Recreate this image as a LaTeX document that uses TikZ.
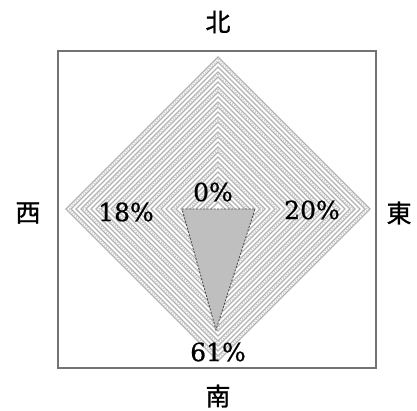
\documentclass[tikz,border=0pt]{standalone}
\usepackage{fontspec}
\usetikzlibrary{calc}
\setmainfont[FakeBold=0.8]{DejaVu Serif}
\newfontfamily\cjk[FakeBold=1]{Noto Sans CJK JP}
\begin{document}
\begin{tikzpicture}[x=1pt,y=-1pt,
  ring/.style={draw=black!30,line width=1.1pt},
  ringdot/.style={draw=black!45,line width=0.5pt,dash pattern=on 1pt off 1.5pt},
  frame/.style={draw=black!55,line width=1.2pt},
  datapoly/.style={fill=black!25,draw=black!70,line width=0.9pt,dash pattern=on 2pt off 1.5pt},
  pct/.style={font=\fontsize{25}{25}\selectfont,inner sep=0pt},
  dir/.style={font=\cjk\fontsize{25}{25}\selectfont,inner sep=0pt}]
\useasboundingbox[fill=white] (0,0) rectangle (417,411);
\draw[frame] (58,51) rectangle (376,368);
\coordinate (c) at (218,209);
\foreach \k in {0,...,29}{
  \pgfmathsetmacro\r{152-5*\k}
  \draw[ring] ($(c)+(0,-\r)$) -- ($(c)+(\r,0)$) -- ($(c)+(0,\r)$) -- ($(c)+(-\r,0)$) -- cycle;
}
\foreach \k in {0,...,9}{
  \pgfmathsetmacro\r{149.5-15*\k}
  \draw[ringdot] ($(c)+(0,-\r)$) -- ($(c)+(\r,0)$) -- ($(c)+(0,\r)$) -- ($(c)+(-\r,0)$) -- cycle;
}
\coordinate (pn) at (218,209);
\coordinate (pe) at (255,209);
\coordinate (ps) at (216,330);
\coordinate (pw) at (182,209);
\draw[datapoly] (pw) -- (pn) -- (pe) -- (ps) -- cycle;
\node[pct] (l0) at (213,192) {0\%};
\node[pct] (l18) at (126,212) {18\%};
\node[pct] (l20) at (312,210) {20\%};
\node[pct] (l61) at (218,352) {61\%};
\node[dir] (n) at (218,22) {北};
\node[dir] (w) at (28,213) {西};
\node[dir] (e) at (399,213) {東};
\node[dir] (s) at (218,396) {南};
\end{tikzpicture}
\end{document}
